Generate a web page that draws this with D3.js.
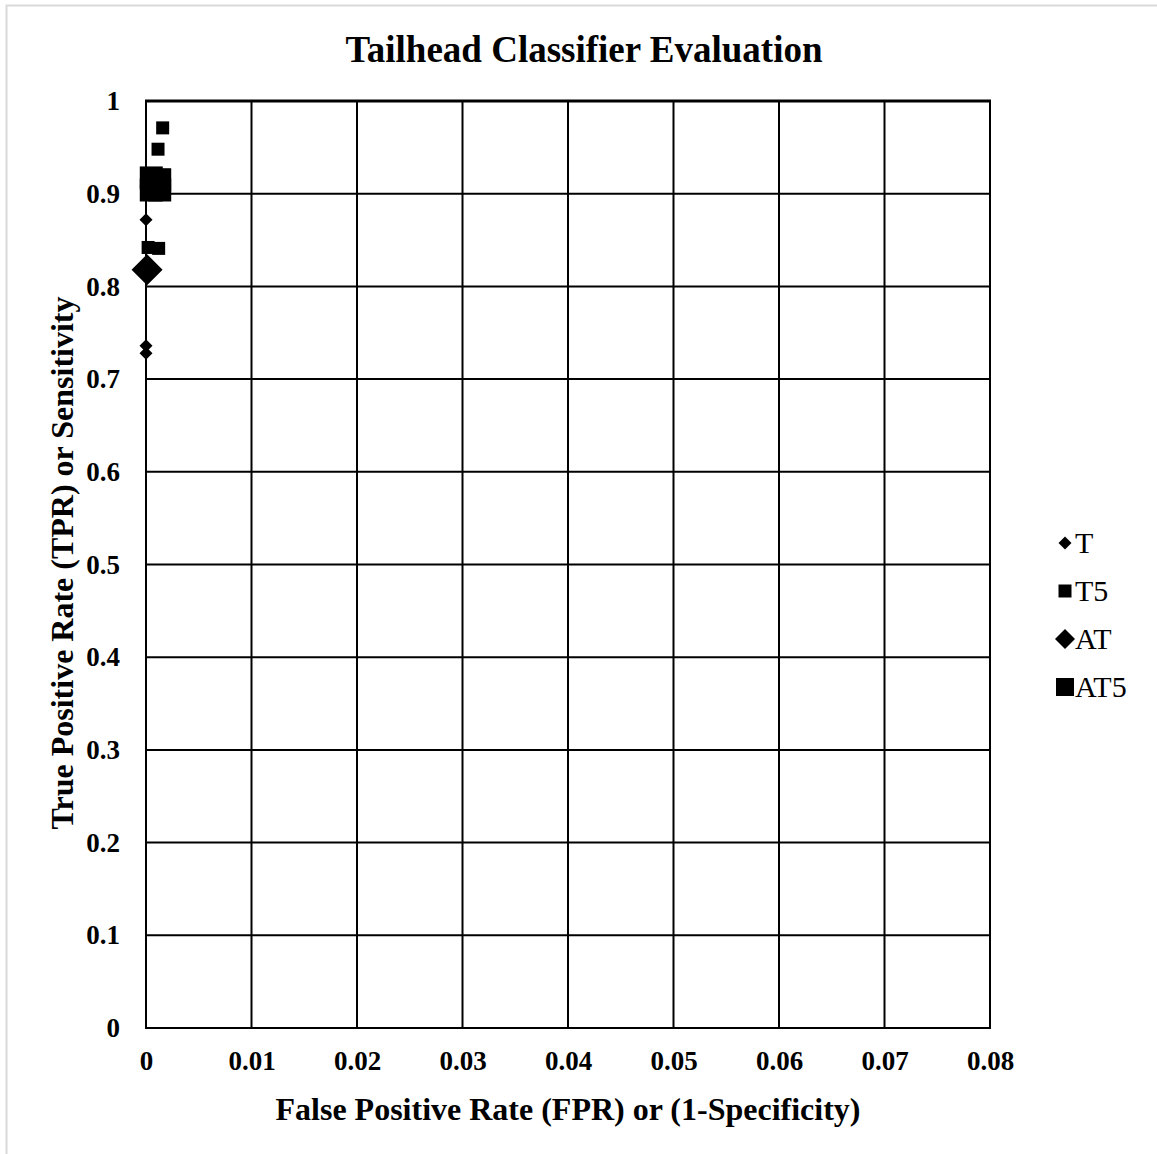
<!DOCTYPE html>
<html>
<head>
<meta charset="utf-8">
<script src="https://cdn.jsdelivr.net/npm/d3@7"></script>
<style>
  html, body { margin: 0; padding: 0; background: #fff; }
  svg { display: block; }
</style>
</head>
<body>
<script>
// Series: false positive rate (x) and true positive rate (y)
const seriesNames = ["T", "T5", "AT", "AT5"];
const tFpr   = [0, 0, 0, 0];
const tTpr   = [0.908, 0.872, 0.736, 0.728];
const t5Fpr  = [0.00158, 0.00114, 0.0002, 0.0012, 0.0017];
const t5Tpr  = [0.971, 0.948, 0.842, 0.841, 0.920];
const atFpr  = [0.0001];
const atTpr  = [0.818];
const at5Fpr = [0.0005, 0.0013, 0.0013, 0.0005];
const at5Tpr = [0.917, 0.915, 0.904, 0.904];

const xTicks = [0, 0.01, 0.02, 0.03, 0.04, 0.05, 0.06, 0.07, 0.08];
const yTicks = [0, 0.1, 0.2, 0.3, 0.4, 0.5, 0.6, 0.7, 0.8, 0.9, 1];

const W = 1157, H = 1154;
const svg = d3.select("body").append("svg").attr("width", W).attr("height", H);

// outer frame
svg.append("rect").attr("x", 6.5).attr("y", 5.5).attr("width", W + 10).attr("height", H + 10)
  .attr("fill", "none").attr("stroke", "#d9d9d9").attr("stroke-width", 2);

const x = d3.scaleLinear().domain([0, 0.08]).range([146, 990]);
const y = d3.scaleLinear().domain([0, 1]).range([1028, 101]);

const serif = "'Liberation Serif', 'Times New Roman', serif";

// grid
const g = svg.append("g");
g.selectAll("line.v").data(xTicks).join("line")
  .attr("x1", d => x(d)).attr("x2", d => x(d)).attr("y1", y(0)).attr("y2", y(1))
  .attr("stroke", "#000").attr("stroke-width", 2);
g.selectAll("line.h").data(yTicks).join("line")
  .attr("x1", x(0) - 1).attr("x2", x(0.08) + 1).attr("y1", d => y(d)).attr("y2", d => y(d))
  .attr("stroke", "#000").attr("stroke-width", d => d === 1 ? 3 : 2);

// axes (tick labels only)
const xAxis = d3.axisBottom(x).tickValues(xTicks).tickSize(0).tickPadding(23)
  .tickFormat(d => d === 0 ? "0" : d3.format(".2f")(d));
svg.append("g").attr("transform", `translate(0,${y(0)})`).call(xAxis)
  .call(s => s.select(".domain").remove())
  .selectAll("text").attr("font-family", serif).attr("font-weight", "bold")
  .attr("font-size", 27).attr("fill", "#000");

const yAxis = d3.axisLeft(y).tickValues(yTicks).tickSize(0).tickPadding(26)
  .tickFormat(d => d === 0 ? "0" : d === 1 ? "1" : d3.format(".1f")(d));
svg.append("g").attr("transform", `translate(${x(0)},0)`).call(yAxis)
  .call(s => s.select(".domain").remove())
  .selectAll("text").attr("font-family", serif).attr("font-weight", "bold")
  .attr("font-size", 27).attr("fill", "#000");

// title and axis titles
svg.append("text").attr("x", 584).attr("y", 62).attr("text-anchor", "middle")
  .attr("font-family", serif).attr("font-weight", "bold").attr("font-size", 37)
  .text("Tailhead Classifier Evaluation");
svg.append("text").attr("x", 568).attr("y", 1120).attr("text-anchor", "middle")
  .attr("font-family", serif).attr("font-weight", "bold").attr("font-size", 32)
  .text("False Positive Rate (FPR) or (1-Specificity)");
svg.append("text").attr("transform", "translate(73,563) rotate(-90)").attr("text-anchor", "middle")
  .attr("font-family", serif).attr("font-weight", "bold").attr("font-size", 32)
  .text("True Positive Rate (TPR) or Sensitivity");

// marker shapes
const diamond = s => `M0,${-s / 2}L${s / 2},0L0,${s / 2}L${-s / 2},0Z`;
const square = s => `M${-s / 2},${-s / 2}h${s}v${s}h${-s}Z`;

const series = [
  { name: seriesNames[0], fpr: tFpr,   tpr: tTpr,   shape: diamond, size: 13, legSize: 13 },
  { name: seriesNames[1], fpr: t5Fpr,  tpr: t5Tpr,  shape: square,  size: 13, legSize: 13 },
  { name: seriesNames[2], fpr: atFpr,  tpr: atTpr,  shape: diamond, size: 31, legSize: 20 },
  { name: seriesNames[3], fpr: at5Fpr, tpr: at5Tpr, shape: square,  size: 23, legSize: 18 }
];

const marks = svg.append("g");
series.slice().reverse().forEach(s => {
  marks.append("g").selectAll("path").data(s.fpr.map((f, i) => [f, s.tpr[i]])).join("path")
    .attr("transform", d => `translate(${x(d[0])},${y(d[1])})`)
    .attr("d", s.shape(s.size)).attr("fill", "#000");
});

// legend
const leg = svg.append("g").attr("transform", "translate(1065,543)");
series.forEach((s, i) => {
  const row = leg.append("g").attr("transform", `translate(0,${i * 48})`);
  row.append("path").attr("d", s.shape(s.legSize)).attr("fill", "#000");
  row.append("text").attr("x", 10).attr("y", 10).attr("font-family", serif)
    .attr("font-size", 30).text(s.name);
});
</script>
</body>
</html>
